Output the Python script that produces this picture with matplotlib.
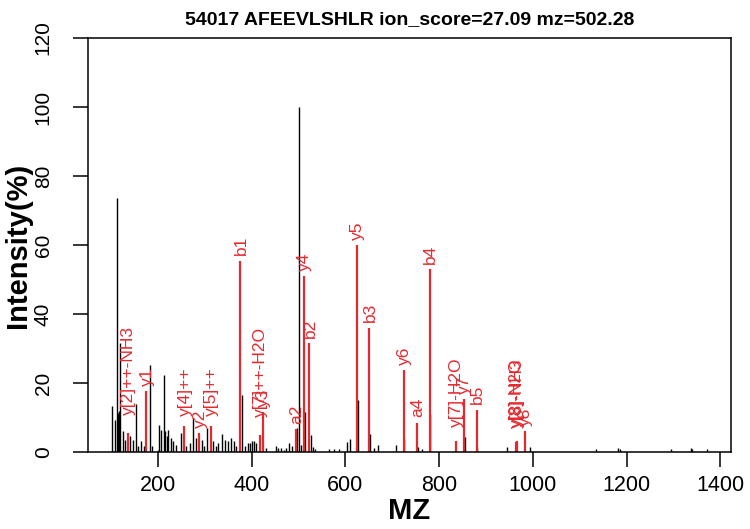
import matplotlib
matplotlib.use("Agg")
import matplotlib.pyplot as plt
import numpy as np

plt.rcParams['font.family'] = ['Liberation Sans', 'DejaVu Sans']

title = "54017 AFEEVLSHLR ion_score=27.09 mz=502.28"

# unannotated (black) peaks
raw_mz = [101.9, 109.0, 112.0, 114.7, 117.5, 120.4, 124.7, 130.3, 141.7, 147.4,
          153.1, 158.8, 164.5, 169.5, 183.6, 186.6, 199.4, 202.8, 207.1, 212.2,
          215.6, 219.2, 222.8, 227.1, 232.8, 238.4, 249.8, 261.2, 268.9, 276.1,
          281.0, 293.8, 299.5, 305.9, 317.9, 323.7, 329.4, 337.9, 343.5, 349.3,
          356.3, 362.0, 366.3, 380.6, 385.5, 391.9, 396.2, 400.4, 406.2, 410.4,
          430.3, 451.6, 457.4, 462.9, 469.3, 474.4, 480.0, 487.2, 497.0, 501.3,
          506.0, 513.5, 526.0, 532.0, 536.0, 565.0, 575.0, 586.0, 604.0, 609.0,
          626.5, 653.0, 661.0, 669.8, 707.5, 725.5, 755.0, 764.0, 781.5, 855.0,
          882.0, 945.6, 993.0, 1134.0, 1181.6, 1185.0, 1294.0, 1336.5, 1340.0, 1372.0]
raw_int = [13.2, 9.4, 73.5, 11.3, 11.8, 31.5, 6.0, 3.6, 4.5, 3.6,
           14.0, 1.6, 3.1, 1.6, 25.3, 1.6, 0.7, 7.9, 6.4, 22.4,
           6.0, 4.5, 6.4, 4.1, 3.1, 2.1, 5.5, 1.6, 2.6, 9.8,
           4.1, 3.6, 1.6, 6.9, 3.1, 1.6, 2.6, 5.2, 3.6, 3.1,
           4.1, 3.1, 1.6, 16.6, 1.6, 2.6, 2.6, 3.1, 3.1, 2.6,
           1.2, 1.6, 1.2, 1.2, 0.7, 1.2, 2.6, 1.6, 7.0, 100.0,
           1.9, 11.5, 4.8, 1.4, 1.0, 1.0, 1.0, 1.0, 2.8, 3.9,
           15.0, 5.3, 1.2, 2.0, 2.0, 3.9, 1.5, 1.0, 11.1, 4.3,
           1.5, 1.5, 1.5, 1.0, 1.2, 1.0, 1.0, 1.2, 1.0, 1.0]

# annotated (red) fragment ions
ion_labels = ["y[2]++-NH3", "y1", "y[4]++", "y2", "y[5]++", "b1", "y[7]++-H2O", "y3",
              "a2", "y4", "b2", "y5", "b3", "y6", "a4", "b4", "y[7]-H2O", "y7", "b5",
              "y[8]-H2O", "y[8]-NH3", "y8"]
ion_mz = [136.0, 175.8, 256.9, 288.9, 313.7, 376.3, 418.2, 424.6,
          494.2, 512.3, 523.5, 625.4, 651.5, 724.4, 752.5, 780.5, 835.5, 853.5, 880.2,
          964.5, 965.5, 982.5]
ion_int = [5.6, 17.6, 7.4, 5.5, 7.4, 55.5, 5.0, 11.5,
           6.6, 51.0, 31.5, 60.0, 36.0, 23.8, 8.5, 53.0, 3.3, 15.3, 12.3,
           2.8, 3.2, 6.0]

xticks = [200, 400, 600, 800, 1000, 1200, 1400]
yticks = [0, 20, 40, 60, 80, 100, 120]

RED = '#E52A2F'

fig = plt.figure(figsize=(7.5, 5.29), dpi=100)
ax = fig.add_axes([88/750, 1-452/529, (731-88)/750, (452-38)/529])

ax.vlines(raw_mz, 0, raw_int, colors='black', linewidth=1.0)
ax.vlines(ion_mz, 0, ion_int, colors=RED, linewidth=1.6)

anns = []
for lab, m, v in zip(ion_labels, ion_mz, ion_int):
    a = ax.annotate(lab, (m, v), xytext=(0.5, 0), textcoords='offset points',
                    rotation=90, ha='center', va='bottom', color=RED, fontsize=12.5)
    anns.append(a)

all_mz = raw_mz + ion_mz
lo, hi = min(all_mz), max(all_mz)
rng = hi - lo
ax.set_xlim(lo - 0.04*rng, hi + 0.04*rng)
ax.set_ylim(0, 120)

ax.set_xticks(xticks)
ax.set_xticklabels([str(t) for t in xticks])
ax.set_yticks(yticks)
ax.set_yticklabels([str(t) for t in yticks], rotation=90, va='center')
ax.tick_params(axis='both', direction='out', length=10.8, width=1.1, labelsize=15.5)
ax.tick_params(axis='y', labelsize=15)
ax.tick_params(axis='x', pad=6)
ax.tick_params(axis='y', pad=14.5)
for s in ax.spines.values():
    s.set_linewidth(1.1)

ax.set_xlabel("MZ", fontsize=21, fontweight='bold')
ax.xaxis.set_label_coords(0.5, (452-497)/414)
ax.set_ylabel("Intensity(%)", fontsize=21, fontweight='bold')
ax.yaxis.set_label_coords((32-88)/643, 0.5)
ax.text(0.5, (452-20)/414, title, transform=ax.transAxes, ha='center', va='center',
        fontsize=14, fontweight='bold')

# labels start a bit above the peak, by a fraction of their own length (as in the reference)
fig.canvas.draw()
r = fig.canvas.get_renderer()
for a in anns:
    h_px = a.get_window_extent(r).height
    a.xyann = (0.5, 1.5 + 0.17 * h_px * 72 / fig.dpi)

fig.savefig("out.png", dpi=100)
